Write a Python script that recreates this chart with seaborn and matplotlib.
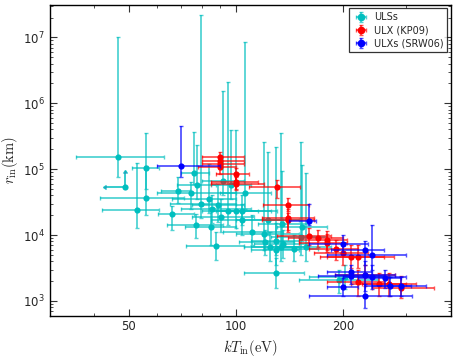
import numpy as np
import pandas as pd
import matplotlib
matplotlib.use("Agg")
import matplotlib.pyplot as plt
import matplotlib.ticker as mticker
from matplotlib.lines import Line2D
from matplotlib.legend_handler import HandlerTuple
import seaborn as sns

# ULSs (cyan): kT_in [eV] with lower/upper bounds, r_in [km] with lower/upper bounds
uls_kt = [46.7, 55.8, 55.8, 52.8, 65.9, 68.8, 76.0, 77.8, 74.7, 77.3, 84.7, 87.7,
          79.9, 83.8, 85.6, 88.8, 91.9, 96.8, 106.2, 94.7, 90.9, 100.0, 103.9, 103.9,
          110.9, 119.9, 123.1, 120.4, 124.1, 129.4, 133.7, 135.0, 129.6, 134.1, 145.4,
          151.7, 153.4, 156.7, 129.6, 202.2, 194.1]
uls_kt_lo = [35.4, 50.9, 41.6, 41.9, 60.3, 61.6, 70.0, 68.3, 60.0, 64.0, 72.0, 72.2,
             65.0, 66.0, 70.0, 75.0, 80.0, 85.0, 90.0, 80.0, 75.0, 85.0, 88.0, 85.0,
             92.0, 100.0, 100.0, 102.0, 105.0, 110.0, 110.0, 112.0, 110.0, 115.0, 120.0,
             125.0, 130.0, 130.0, 105.0, 160.0, 150.0]
uls_kt_hi = [62.7, 60.7, 71.4, 60.7, 76.3, 74.0, 84.0, 87.7, 100.0, 92.0, 100.0, 104.9,
             100.0, 100.0, 110.0, 105.0, 105.0, 110.0, 125.0, 115.0, 112.0, 125.0, 130.0, 135.0,
             135.0, 150.0, 150.0, 145.0, 150.0, 150.0, 160.0, 158.0, 150.0, 160.0, 170.0,
             180.0, 180.0, 185.0, 155.0, 270.0, 250.0]
uls_r = [1.54e5, 1.06e5, 3.67e4, 2.42e4, 2.12e4, 4.69e4, 8.79e4, 5.84e4, 4.38e4, 1.42e4,
         1.34e4, 6.76e3, 2.98e4, 3.55e4, 2.50e4, 2.88e4, 6.58e4, 5.84e4, 4.38e4, 2.31e4,
         1.91e4, 2.31e4, 2.31e4, 1.69e4, 1.11e4, 1.05e4, 1.67e4, 7.83e3, 6.58e3, 6.00e3,
         6.58e3, 7.31e3, 8.11e3, 1.45e4, 6.20e3, 9.33e3, 1.34e4, 6.60e3, 2.62e3, 2.31e3,
         2.08e3]
uls_r_lo = [7.7e4, 5.0e4, 2.0e4, 1.3e4, 1.2e4, 3.1e4, 6.0e4, 3.5e4, 2.5e4, 9.0e3,
            7.0e3, 4.2e3, 1.8e4, 2.2e4, 1.5e4, 1.6e4, 4.0e4, 3.5e4, 2.5e4, 1.4e4,
            1.1e4, 1.3e4, 1.4e4, 1.0e4, 7.0e3, 6.0e3, 1.0e4, 5.0e3, 4.0e3, 3.5e3,
            4.0e3, 4.5e3, 5.0e3, 8.0e3, 4.0e3, 5.0e3, 8.0e3, 4.0e3, 1.6e3, 1.5e3,
            1.3e3]
uls_r_hi = [1.0e7, 3.5e5, 1.1e5, 1.26e5, 2.8e4, 7.7e4, 3.7e5, 2.3e5, 6.5e4, 2.1e4,
            2.6e4, 1.1e4, 2.2e7, 1.2e5, 4.0e4, 6.0e4, 1.55e6, 3.9e5, 8.6e6, 2.1e6,
            3.5e4, 3.9e5, 4.0e4, 3.0e4, 2.0e4, 2.6e5, 1.8e5, 1.2e4, 1.1e4, 2.2e5,
            3.5e5, 1.2e4, 1.5e4, 9.3e4, 1.0e4, 2.6e5, 1.16e5, 8.7e4, 4.5e3, 3.5e3,
            3.0e3]
# one ULS with limits (upper limit on kT, lower limit on r_in)
uls_lim_kt = [48.8]
uls_lim_kt_lo = [43.0]
uls_lim_r = [5.34e4]
uls_lim_r_hi = [8.7e4]

# ULX (KP09) (red)
kp_kt = [89.8, 89.8, 89.8, 89.8, 99.8, 99.8, 99.8, 130.2, 140.1, 140.1, 140.1, 160.2,
         169.8, 180.4, 180.4, 190.4, 200.0, 210.6, 220.4, 230.2, 220.4, 250.9, 269.0, 290.8]
kp_kt_lo = [80, 80, 80, 78, 88, 85, 85, 108.7, 119, 118, 118, 130,
            140, 150, 150, 160, 165, 172, 180, 190, 180, 210, 225, 240]
kp_kt_hi = [105, 105, 105, 100, 108.7, 115, 120, 151, 160.5, 165, 165, 185,
            200, 205, 205, 220, 235, 260, 278, 280, 260, 300, 320, 360]
kp_r = [1.55e5, 1.35e5, 1.20e5, 1.08e5, 8.4e4, 6.4e4, 6.0e4, 5.35e4, 2.9e4, 1.8e4, 1.69e4,
        9.6e3, 8.9e3, 8.4e3, 7.5e3, 6.1e3, 5.26e3, 4.7e3, 4.7e3, 2.48e3, 1.94e3, 1.81e3,
        1.81e3, 1.59e3]
kp_r_lo = [1.3e5, 1.15e5, 1.0e5, 8.5e4, 6.5e4, 5.0e4, 4.8e4, 3.7e4, 2.3e4, 1.2e4, 1.1e4,
           7.0e3, 6.5e3, 6.0e3, 5.5e3, 4.2e3, 3.5e3, 3.2e3, 3.2e3, 1.7e3, 1.2e3, 1.2e3,
           1.2e3, 1.1e3]
kp_r_hi = [1.8e5, 1.6e5, 1.45e5, 1.3e5, 1.05e5, 8.0e4, 7.5e4, 6.8e4, 3.7e4, 2.5e4, 2.2e4,
           1.3e4, 1.2e4, 1.15e4, 1.05e4, 8.5e3, 7.5e3, 7.0e3, 7.0e3, 3.5e3, 3.0e3, 2.7e3,
           2.7e3, 2.4e3]

# ULXs (SRW06) (blue)
srw_kt = [69.9, 160.2, 200.0, 230.2, 240.5, 210.6, 210.6, 200.0, 230.2, 240.5, 260.9,
          270.7, 290.8, 230.2]
srw_kt_lo = [59.8, 141, 160, 185, 180, 180, 170, 180, 190, 200, 220, 230, 240, 160]
srw_kt_hi = [89.8, 168, 235, 260, 300, 240, 260, 220, 280, 300, 290, 310, 340, 312]
srw_r = [1.13e5, 1.65e4, 7.3e3, 5.9e3, 4.9e3, 2.78e3, 2.38e3, 1.61e3, 2.45e3, 2.35e3,
         2.2e3, 1.68e3, 1.68e3, 1.19e3]
srw_r_lo = [7.7e4, 1.4e4, 5.5e3, 3.5e3, 3.0e3, 2.2e3, 1.8e3, 1.2e3, 1.4e3, 1.5e3,
            1.6e3, 1.2e3, 1.2e3, 7.7e2]
srw_r_hi = [4.5e5, 2.98e4, 1.0e4, 8.0e3, 1.42e4, 3.5e3, 3.0e3, 2.2e3, 4.0e3, 3.5e3,
            3.0e3, 2.3e3, 2.3e3, 1.8e3]

x_major = [50, 100, 200]
x_minor = [30, 40, 60, 70, 80, 90, 300, 400]

sns.set_style("ticks")
plt.rcParams["font.family"] = ["DejaVu Sans"]
plt.rcParams["mathtext.fontset"] = "cm"

fig = plt.figure(figsize=(4.58, 3.57), dpi=100)
ax = fig.add_axes([0.109, 0.116, 0.875, 0.870])
ax.set_xscale("log")
ax.set_yscale("log")


def draw_group(kt, kt_lo, kt_hi, r, r_lo, r_hi, color, z):
    df = pd.DataFrame({"kt": kt, "r": r})
    xerr = [np.array(kt) - np.array(kt_lo), np.array(kt_hi) - np.array(kt)]
    yerr = [np.array(r) - np.array(r_lo), np.array(r_hi) - np.array(r)]
    eb = ax.errorbar(df["kt"], df["r"], xerr=xerr, yerr=yerr, fmt="none",
                     ecolor=color, elinewidth=1.3, capsize=1.5, capthick=1.0,
                     alpha=0.68, zorder=z)
    sns.scatterplot(data=df, x="kt", y="r", color=color, s=20, linewidth=0,
                    ax=ax, zorder=z + 0.5, legend=False)
    return eb


cyan = "#00bfbf"
h1 = draw_group(uls_kt, uls_kt_lo, uls_kt_hi, uls_r, uls_r_lo, uls_r_hi, cyan, 2)
# limit point
ax.errorbar(uls_lim_kt, uls_lim_r,
            xerr=[np.array(uls_lim_kt) - np.array(uls_lim_kt_lo)] * 2,
            yerr=[np.array(uls_lim_r_hi) - np.array(uls_lim_r)] * 2,
            xuplims=True, lolims=True, fmt="none", ecolor=cyan, elinewidth=1.3,
            capsize=1.6, alpha=0.85, zorder=2)
sns.scatterplot(x=uls_lim_kt, y=uls_lim_r, color=cyan, s=20, linewidth=0, ax=ax,
                zorder=2.5, legend=False)
h2 = draw_group(kp_kt, kp_kt_lo, kp_kt_hi, kp_r, kp_r_lo, kp_r_hi, "red", 3)
h3 = draw_group(srw_kt, srw_kt_lo, srw_kt_hi, srw_r, srw_r_lo, srw_r_hi, "blue", 4)

ax.set_xlim(30, 400)
ax.set_ylim(600, 3.1e7)
ax.xaxis.set_major_locator(mticker.FixedLocator(x_major))
ax.xaxis.set_major_formatter(mticker.FixedFormatter([str(v) for v in x_major]))
ax.xaxis.set_minor_locator(mticker.FixedLocator(x_minor))
ax.xaxis.set_minor_formatter(mticker.NullFormatter())
ax.tick_params(which="both", direction="in", top=True, right=True, labelsize=8.5,
               color="#333333")
ax.tick_params(which="major", length=5, width=0.8)
ax.tick_params(which="minor", length=2.5, width=0.6)
for sp in ax.spines.values():
    sp.set_linewidth(1.0)
    sp.set_color("black")

ax.set_xlabel(r"$kT_{\rm in}(\rm eV)$", fontsize=10.5, labelpad=3)
ax.set_ylabel(r"$r_{\rm in}(\rm km)$", fontsize=10.5, labelpad=2)

handles = []
for h, c in [(h1, cyan), (h2, "red"), (h3, "blue")]:
    m = Line2D([], [], marker="o", color=c, linestyle="none", markersize=4.5)
    handles.append((h, m))
leg = ax.legend(handles, ["ULSs", "ULX (KP09)", "ULXs (SRW06)"],
                handler_map={tuple: HandlerTuple(ndivide=1)}, loc="upper right",
                fontsize=7, frameon=True, fancybox=False, borderaxespad=0.35,
                handlelength=1.6, handletextpad=0.5, borderpad=0.4, labelspacing=0.3)
leg.get_frame().set_edgecolor("black")
leg.get_frame().set_linewidth(0.9)

fig.savefig("out.png", dpi=100)
